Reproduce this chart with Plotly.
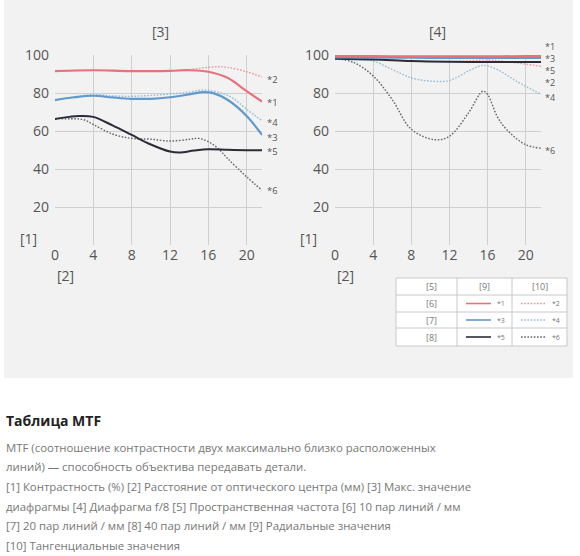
import plotly.graph_objects as go

W, H = 580, 556

# MTF data, max aperture (left chart)
max_r10_x = [0, 4, 8, 12, 14, 16, 18, 20, 21.6]
max_r10_y = [91.5, 92, 91.5, 91.7, 92, 91.2, 88, 81, 75.5]
max_t10_x = [0, 4, 8, 12, 14, 15.5, 17, 18, 20, 21.6]
max_t10_y = [91.5, 92, 91.5, 91.7, 92.3, 93.3, 93.8, 93.5, 91.2, 88.5]
max_r20_x = [0, 2, 4, 6, 8, 10, 12, 14, 15.5, 16.5, 18, 20, 21.6]
max_r20_y = [76.3, 77.8, 78.6, 77.7, 77, 77, 77.8, 79.3, 80.5, 80, 76.5, 68, 58]
max_t20_x = [0, 2, 4, 6, 8, 10, 12, 14, 15.5, 17, 18.5, 20, 21.6]
max_t20_y = [76.3, 78, 79.2, 78.5, 78.3, 78.8, 79.5, 80.5, 81.6, 80.5, 77.5, 71.5, 65.5]
max_r40_x = [0, 1.5, 2.5, 4, 6, 8, 10, 12, 13, 14.5, 16, 18, 20, 21.6]
max_r40_y = [66.4, 67.5, 68, 67.5, 63, 58, 53, 49.3, 48.8, 49.8, 50.5, 50.2, 50, 50]
max_t40_x = [0, 2, 3, 4, 6, 8, 10, 12, 14, 15, 16, 17, 18, 20, 21.6]
max_t40_y = [66.4, 66.5, 66, 63.5, 58.5, 56.2, 55.8, 54.8, 55.7, 56.2, 54.5, 51, 45.7, 36, 29]

# MTF data, f/8 (right chart)
f8_r10_x = [0, 4, 8, 12, 16, 20, 21.6]
f8_r10_y = [99.5, 99.4, 99.3, 99.3, 99.3, 99.4, 99.4]
f8_r20_x = [0, 4, 8, 12, 16, 20, 21.6]
f8_r20_y = [98.8, 98.7, 98.6, 98.5, 98.5, 98.5, 98.5]
f8_r40_x = [0, 4, 8, 12, 16, 20, 21.6]
f8_r40_y = [98, 97.6, 96.8, 96.4, 96.3, 96.3, 96.3]
f8_t10_x = [0, 4, 8, 12, 16, 18, 20, 21.6]
f8_t10_y = [99, 98, 96.8, 96.5, 97.3, 96.5, 95.2, 94]
f8_t20_x = [0, 2, 4, 6, 8, 10, 12, 14, 15.5, 17, 19, 21.6]
f8_t20_y = [98.2, 97.8, 96.8, 92.4, 88, 86.3, 86.6, 91.6, 94.5, 92.4, 86.3, 79.3]
f8_t40_x = [0, 2, 4, 6, 8, 10.5, 12, 14, 15.5, 16, 17, 18, 20, 21.6]
f8_t40_y = [98.2, 96, 89, 76.6, 61, 55.5, 57.3, 69.6, 81, 79.3, 67.8, 60.8, 52.9, 51.1]

x_ticks = [0, 4, 8, 12, 16, 20]
y_ticks = [20, 40, 60, 80, 100]

RED, RED_T = "#e6737b", "#eb949c"
BLUE, BLUE_T = "#6199cd", "#92bcda"
BLACK, GREY_T = "#2c2c38", "#666666"
FINE_DOT = "1.6px,1.6px"

styles = {
    "1": dict(color=RED, width=2.2, dash="solid"),
    "2": dict(color=RED_T, width=1.4, dash=FINE_DOT),
    "3": dict(color=BLUE, width=2.2, dash="solid"),
    "4": dict(color=BLUE_T, width=1.4, dash=FINE_DOT),
    "5": dict(color=BLACK, width=2.0, dash="solid"),
    "6": dict(color=GREY_T, width=1.4, dash=FINE_DOT),
}


def px(x):
    return x / W


def py(y):
    return 1 - y / H


fig = go.Figure()

left = [("2", max_t10_x, max_t10_y), ("4", max_t20_x, max_t20_y),
        ("6", max_t40_x, max_t40_y), ("1", max_r10_x, max_r10_y),
        ("3", max_r20_x, max_r20_y), ("5", max_r40_x, max_r40_y)]
right = [("2", f8_t10_x, f8_t10_y), ("4", f8_t20_x, f8_t20_y),
         ("6", f8_t40_x, f8_t40_y), ("5", f8_r40_x, f8_r40_y),
         ("3", f8_r20_x, f8_r20_y), ("1", f8_r10_x, f8_r10_y)]

for key, xs, ys in left:
    fig.add_trace(go.Scatter(x=xs, y=ys, mode="lines", line=styles[key],
                             line_shape="spline", showlegend=False,
                             xaxis="x", yaxis="y"))
for key, xs, ys in right:
    fig.add_trace(go.Scatter(x=xs, y=ys, mode="lines", line=styles[key],
                             line_shape="spline", showlegend=False,
                             xaxis="x2", yaxis="y2"))

axis_font = dict(family="Open Sans", size=14, color="#555")
xa = dict(range=[0, 21.6], tickvals=x_ticks, showgrid=True, gridcolor="#cfcfcf",
          gridwidth=1, zeroline=False, showline=False, ticks="",
          tickfont=axis_font, fixedrange=True, automargin=False)
ya = dict(range=[0, 100], tickvals=y_ticks, showgrid=True, gridcolor="#cfcfcf",
          gridwidth=1, zeroline=False, showline=False, ticks="",
          tickfont=axis_font, ticklabelstandoff=5, fixedrange=True, automargin=False)

y_dom = [py(245.4), py(55)]
fig.update_layout(
    width=W, height=H,
    margin=dict(l=0, r=0, t=0, b=0, pad=0, autoexpand=False),
    paper_bgcolor="white", plot_bgcolor="white",
    xaxis=dict(xa, domain=[px(55), px(262)], anchor="y"),
    yaxis=dict(ya, domain=y_dom, anchor="x"),
    xaxis2=dict(xa, domain=[px(335), px(541)], anchor="y2"),
    yaxis2=dict(ya, domain=y_dom, anchor="x2"),
)

# grey panel behind the charts
shapes = [dict(type="rect", xref="paper", yref="paper", layer="below",
               x0=px(4), x1=px(573), y0=py(378), y1=py(0),
               fillcolor="#f2f2f2", line=dict(width=0))]

ann = []


def note(x, y, text, size=13, color="#555", xanchor="center", **kw):
    ann.append(dict(x=px(x), y=py(y), xref="paper", yref="paper", text=text,
                    showarrow=False, xanchor=xanchor, yanchor="middle",
                    font=dict(family="Open Sans", size=size, color=color), **kw))


# bracket labels
note(160, 32, "[3]", size=14)
note(437, 32, "[4]", size=14)
note(28, 238, "[1]", size=14)
note(65, 275, "[2]", size=14)
note(308, 238, "[1]", size=14)
note(345, 275, "[2]", size=14)

# curve end labels
for t, y in [("*2", 79), ("*1", 103), ("*4", 122.5), ("*3", 137), ("*5", 151.5), ("*6", 191)]:
    note(266, y, t, size=9.5, xanchor="left", height=11, borderpad=0)
for t, y in [("*1", 46), ("*3", 58), ("*5", 70), ("*2", 82), ("*4", 97), ("*6", 150)]:
    note(544, y, t, size=9, xanchor="left", height=10, borderpad=0)

# legend table
tx0, tx1, ty0, ty1 = 396, 567, 278, 346
cols = [457, 512]
rows = [295, 312, 328]
shapes.append(dict(type="rect", xref="paper", yref="paper", x0=px(tx0), x1=px(tx1),
                   y0=py(ty1), y1=py(ty0), fillcolor="white",
                   line=dict(color="#c8c8c8", width=1)))
for c in cols:
    shapes.append(dict(type="line", xref="paper", yref="paper", x0=px(c), x1=px(c),
                       y0=py(ty1), y1=py(ty0), line=dict(color="#c8c8c8", width=1)))
for r in rows:
    shapes.append(dict(type="line", xref="paper", yref="paper", x0=px(tx0), x1=px(tx1),
                       y0=py(r), y1=py(r), line=dict(color="#c8c8c8", width=1)))

note(431, 286.5, "[5]", size=9, color="#777")
note(485, 286.5, "[9]", size=9, color="#777")
note(540, 286.5, "[10]", size=9, color="#777")
row_mid = [303.5, 320, 337]
for lab, ym, (k1, k2) in zip(["[6]", "[7]", "[8]"], row_mid, [("1", "2"), ("3", "4"), ("5", "6")]):
    note(431, ym, lab, size=9, color="#777")
    for k, lx in [(k1, 466), (k2, 521)]:
        st = styles[k]
        shapes.append(dict(type="line", xref="paper", yref="paper",
                           x0=px(lx), x1=px(lx + 25), y0=py(ym), y1=py(ym),
                           line=dict(color=st["color"], width=min(st["width"], 1.6),
                                     dash=st["dash"])))
        note(lx + 29, ym, "*" + k, size=7, color="#777", xanchor="left")

# text block under the charts
note(4, 420, "<b>Таблица MTF</b>", size=14, color="#222", xanchor="left")
body = [
    "MTF (соотношение контрастности двух максимально близко расположенных",
    "линий) — способность объектива передавать детали.",
    "[1] Контрастность (%) [2] Расстояние от оптического центра (мм) [3] Макс. значение",
    "диафрагмы [4] Диафрагма f/8 [5] Пространственная частота [6] 10 пар линий / мм",
    "[7] 20 пар линий / мм [8] 40 пар линий / мм [9] Радиальные значения",
    "[10] Тангенциальные значения",
]
for i, line in enumerate(body):
    note(4, 447 + i * 19.7, line, size=11.4, color="#777", xanchor="left")

fig.update_layout(shapes=shapes, annotations=ann)

# the page's default body margin would push the fixed-size figure past the window
page_fix = ("document.documentElement.style.overflow='hidden';"
            "document.body.style.margin='0';"
            "document.body.style.overflow='hidden';")
fig.write_html("out.html", post_script=page_fix,
               config={"displayModeBar": False, "staticPlot": True})
